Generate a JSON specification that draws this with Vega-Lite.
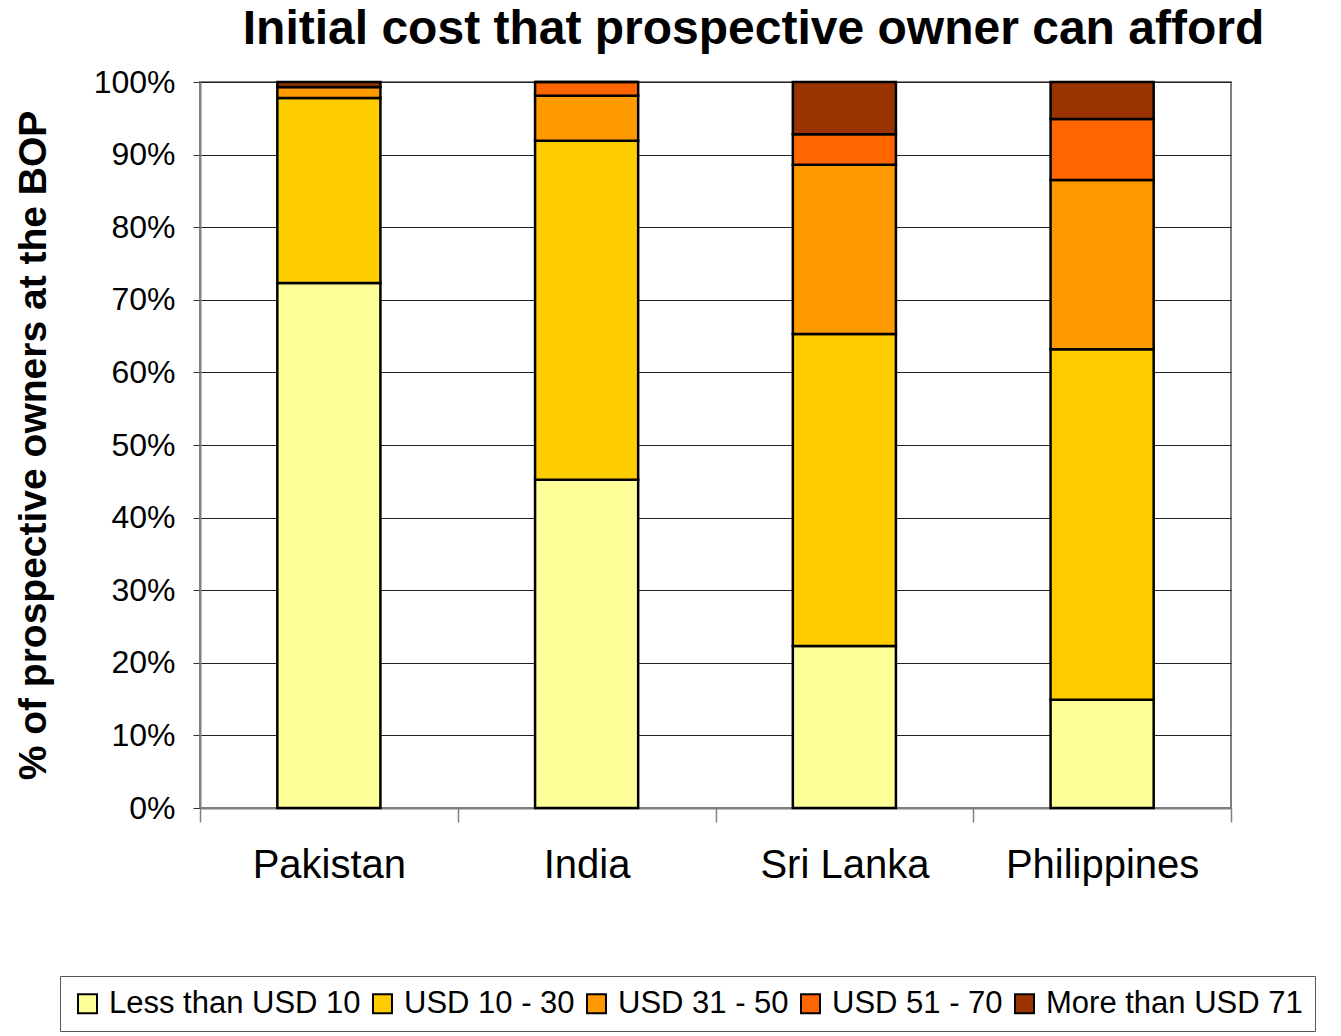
{
  "$schema": "https://vega.github.io/schema/vega-lite/v6.json",
  "width": 1031,
  "height": 726,
  "autosize": {"type": "none"},
  "padding": {"left": 200, "top": 82, "right": 110, "bottom": 228},
  "background": "white",
  "config": {
    "font": "Liberation Sans",
    "view": {"stroke": "#808080", "strokeWidth": 2}
  },
  "title": {
    "text": "Initial cost that prospective owner can afford",
    "fontSize": 48,
    "fontWeight": "bold",
    "color": "black",
    "anchor": "middle",
    "dx": 38,
    "offset": 12
  },
  "data": {
    "values": [
      {"country": "Pakistan", "cost": "Less than USD 10", "k": 1, "pct": 0.723},
      {"country": "Pakistan", "cost": "USD 10 - 30", "k": 2, "pct": 0.255},
      {"country": "Pakistan", "cost": "USD 31 - 50", "k": 3, "pct": 0.015},
      {"country": "Pakistan", "cost": "USD 51 - 70", "k": 4, "pct": 0.0},
      {"country": "Pakistan", "cost": "More than USD 71", "k": 5, "pct": 0.007},
      {"country": "India", "cost": "Less than USD 10", "k": 1, "pct": 0.452},
      {"country": "India", "cost": "USD 10 - 30", "k": 2, "pct": 0.467},
      {"country": "India", "cost": "USD 31 - 50", "k": 3, "pct": 0.062},
      {"country": "India", "cost": "USD 51 - 70", "k": 4, "pct": 0.019},
      {"country": "India", "cost": "More than USD 71", "k": 5, "pct": 0.0},
      {"country": "Sri Lanka", "cost": "Less than USD 10", "k": 1, "pct": 0.223},
      {"country": "Sri Lanka", "cost": "USD 10 - 30", "k": 2, "pct": 0.430},
      {"country": "Sri Lanka", "cost": "USD 31 - 50", "k": 3, "pct": 0.233},
      {"country": "Sri Lanka", "cost": "USD 51 - 70", "k": 4, "pct": 0.042},
      {"country": "Sri Lanka", "cost": "More than USD 71", "k": 5, "pct": 0.072},
      {"country": "Philippines", "cost": "Less than USD 10", "k": 1, "pct": 0.149},
      {"country": "Philippines", "cost": "USD 10 - 30", "k": 2, "pct": 0.483},
      {"country": "Philippines", "cost": "USD 31 - 50", "k": 3, "pct": 0.233},
      {"country": "Philippines", "cost": "USD 51 - 70", "k": 4, "pct": 0.084},
      {"country": "Philippines", "cost": "More than USD 71", "k": 5, "pct": 0.051}
    ]
  },
  "mark": {"type": "bar", "stroke": "black", "strokeWidth": 2.5, "width": {"band": 0.4}},
  "encoding": {
    "x": {
      "field": "country",
      "type": "nominal",
      "sort": ["Pakistan", "India", "Sri Lanka", "Philippines"],
      "scale": {"paddingInner": 0, "paddingOuter": 0},
      "axis": {
        "title": null,
        "labelAngle": 0,
        "labelFontSize": 40,
        "labelColor": "black",
        "labelPadding": 23,
        "labelLimit": 400,
        "tickBand": "extent",
        "tickSize": 14,
        "tickColor": "#808080",
        "tickWidth": 1.5,
        "domainColor": "#808080",
        "domainWidth": 2,
        "grid": false
      }
    },
    "y": {
      "field": "pct",
      "type": "quantitative",
      "stack": "zero",
      "scale": {"domain": [0, 1]},
      "axis": {
        "title": "% of prospective owners at the BOP",
        "titleFontSize": 39,
        "titleFontWeight": "bold",
        "titleColor": "black",
        "titlePadding": 40,
        "format": ".0%",
        "values": [0, 0.1, 0.2, 0.3, 0.4, 0.5, 0.6, 0.7, 0.8, 0.9, 1],
        "labelFontSize": 32,
        "labelColor": "black",
        "labelPadding": 18,
        "tickSize": 7,
        "tickColor": "#333333",
        "domainColor": "#808080",
        "domainWidth": 2,
        "grid": true,
        "gridColor": "#222222",
        "gridWidth": 1
      }
    },
    "color": {
      "field": "cost",
      "type": "nominal",
      "scale": {
        "domain": ["Less than USD 10", "USD 10 - 30", "USD 31 - 50", "USD 51 - 70", "More than USD 71"],
        "range": ["#FFFF99", "#FFCC00", "#FF9900", "#FF6600", "#993300"]
      },
      "legend": {
        "title": null,
        "orient": "none",
        "legendX": -140,
        "legendY": 894,
        "direction": "horizontal",
        "columns": 5,
        "symbolType": "square",
        "symbolSize": 360,
        "symbolStrokeColor": "black",
        "symbolStrokeWidth": 2,
        "labelFontSize": 31,
        "labelColor": "black",
        "labelOffset": 6,
        "columnPadding": 6,
        "strokeColor": "#555555",
        "padding": 12,
        "labelLimit": 400
      }
    },
    "order": {"field": "k", "type": "quantitative"}
  }
}
